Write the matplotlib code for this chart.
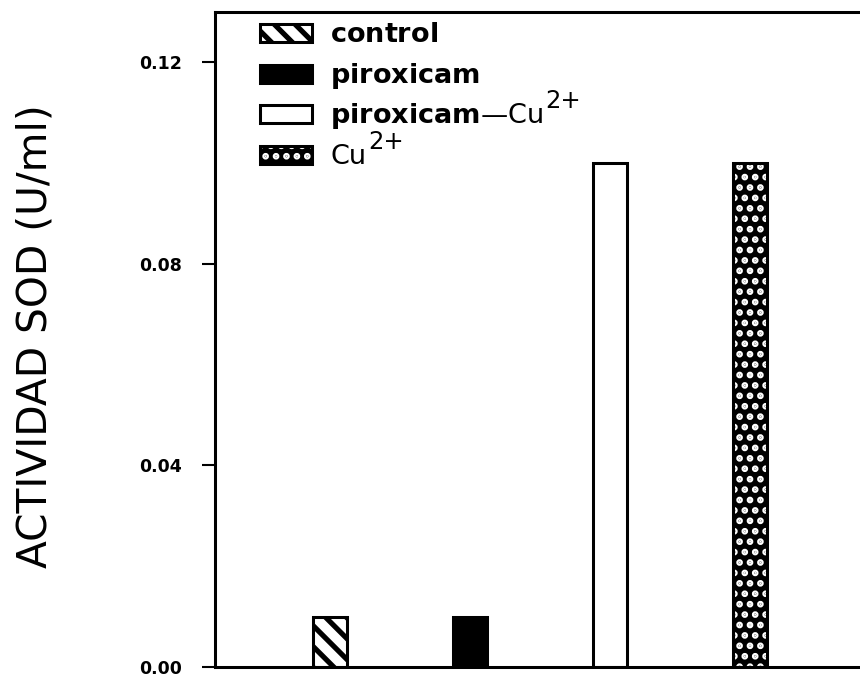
import matplotlib
matplotlib.use("Agg")
import matplotlib.pyplot as plt
from matplotlib.patches import Rectangle

plt.rcParams["font.family"] = ["DejaVu Sans"]
plt.rcParams["mathtext.fontset"] = "dejavusans"
plt.rcParams["mathtext.default"] = "regular"

# Data
groups = ["control", "piroxicam", "piroxicam-Cu2+", "Cu2+"]
sod_activity = [0.01, 0.01, 0.10, 0.10]
legend_main = [r"$\mathbf{control}$", r"$\mathbf{piroxicam}$",
               r"$\mathbf{piroxicam}$—Cu", "Cu"]
legend_sup = ["", "", "2+", "2+"]
yticks = [0.00, 0.04, 0.08, 0.12]
ytick_labels = ["0.00", "0.04", "0.08", "0.12"]

DPI = 125
fig = plt.figure(figsize=(860 / DPI, 674 / DPI), dpi=DPI)
ax = fig.add_axes([0.25, 0.0104, 0.75, 0.972])

x = list(range(1, len(groups) + 1))
width = 0.236
edge_lw = 1.75

# fill, hatch, hatch colour, hatch line width for each group
styles = [
    ("white", "\\\\", "black", 3.0),
    ("black", None, "black", 1.0),
    ("white", None, "black", 1.0),
    ("black", "..", "white", 2.6),
]


def styled_rect(draw, fill, hatch, hcolor, hlw):
    """Draw a filled, optionally hatched shape plus a black outline."""
    with plt.rc_context({"hatch.linewidth": hlw}):
        if hatch:
            draw(facecolor=fill, edgecolor=hcolor, hatch=hatch, linewidth=0)
            draw(facecolor="none", edgecolor="black", linewidth=edge_lw)
        else:
            draw(facecolor=fill, edgecolor="black", linewidth=edge_lw)


for xi, val, st in zip(x, sod_activity, styles):
    styled_rect(lambda **kw: ax.bar(xi, val, width=width, **kw), *st)

ax.set_xlim(1 - 115 / 140, 1 - 115 / 140 + 645 / 140)
ax.set_ylim(0.0, 0.130)
ax.set_xticks([])
ax.set_yticks(yticks)
ax.set_yticklabels(ytick_labels, fontsize=10, fontweight="bold")
ax.tick_params(axis="y", direction="out", length=7.5, width=1.2, pad=11.5)

for side in ["left", "bottom", "top"]:
    ax.spines[side].set_linewidth(1.75)
ax.spines["right"].set_visible(False)

ax.set_ylabel("ACTIVIDAD SOD (U/ml)", fontsize=23.5)
ax.yaxis.set_label_coords(-0.248, 0.505)

# Legend: swatches and labels stacked in the upper-left corner
row_h = 40.7 / 655.0
box_w = 52 / 645.0
box_h = 18 / 655.0
x0 = (260 - 215) / 645.0
text_x = (330 - 215) / 645.0
y_first = (667 - 33) / 655.0
for i, (st, lab, sup) in enumerate(zip(styles, legend_main, legend_sup)):
    yc = y_first - i * row_h
    styled_rect(lambda **kw: ax.add_patch(
        Rectangle((x0, yc - box_h / 2), box_w, box_h,
                  transform=ax.transAxes, clip_on=False, **kw)), *st)
    yb = yc - 9 / 655.0
    main = ax.text(text_x, yb, lab, transform=ax.transAxes,
                   fontsize=15.6, va="baseline", ha="left")
    if sup:
        ax.annotate(sup, xy=(1, yb), xycoords=(main, ax.transAxes),
                    xytext=(2, 15), textcoords="offset pixels",
                    fontsize=14, va="baseline", ha="left")

fig.savefig("out.png", dpi=DPI)
